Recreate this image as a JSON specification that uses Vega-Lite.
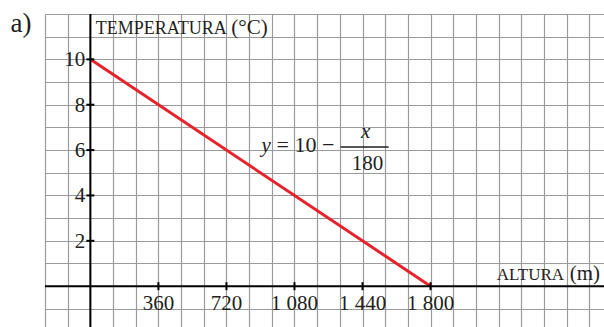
{
  "$schema": "https://vega.github.io/schema/vega-lite/v6.json",
  "width": 559,
  "height": 313,
  "autosize": {"type": "none"},
  "padding": {"left": 45, "top": 14, "right": 0, "bottom": 0},
  "background": "white",
  "data": {"values": [{}]},
  "config": {
    "view": {"stroke": null},
    "text": {"font": "Liberation Serif", "color": "#231f20"},
    "axis": {"labels": false, "ticks": false, "domain": false, "titleOpacity": 0, "grid": true,
      "gridColor": "#9b9b9b", "gridWidth": 1.2, "gridOpacity": 1}
  },
  "datasets": {
    "linea": [{"altura": 0, "temp": 10}, {"altura": 1800, "temp": 0}],
    "xticks": [
      {"v": 360, "label": "360"},
      {"v": 720, "label": "720"},
      {"v": 1080, "label": "1 080"},
      {"v": 1440, "label": "1 440"},
      {"v": 1800, "label": "1 800"}
    ],
    "yticks": [
      {"v": 2, "label": "2"},
      {"v": 4, "label": "4"},
      {"v": 6, "label": "6"},
      {"v": 8, "label": "8"},
      {"v": 10, "label": "10"}
    ]
  },
  "layer": [
    {
      "data": {"name": "linea"},
      "mark": {"type": "line", "color": "#e8222b", "strokeWidth": 3, "clip": false},
      "encoding": {
        "x": {
          "field": "altura", "type": "quantitative", "title": null,
          "scale": {"domain": [-240, 2717.7], "nice": false, "zero": false},
          "axis": {"values": [-240,-120,0,120,240,360,480,600,720,840,960,1080,1200,1320,1440,1560,1680,1800,1920,2040,2160,2280,2400,2520,2640]}
        },
        "y": {
          "field": "temp", "type": "quantitative", "title": null,
          "scale": {"domain": [-1.8, 12], "nice": false, "zero": false},
          "axis": {"values": [-1,0,1,2,3,4,5,6,7,8,9,10,11,12]}
        }
      }
    },
    {
      "mark": {"type": "rule", "color": "black", "strokeWidth": 2},
      "encoding": {"y": {"datum": 0, "title": null, "axis": {"values": [-1,0,1,2,3,4,5,6,7,8,9,10,11,12]}}}
    },
    {
      "mark": {"type": "rule", "color": "black", "strokeWidth": 2},
      "encoding": {"x": {"datum": 0, "title": null, "axis": {"values": [-240,-120,0,120,240,360,480,600,720,840,960,1080,1200,1320,1440,1560,1680,1800,1920,2040,2160,2280,2400,2520,2640]}}}
    },
    {
      "data": {"name": "xticks"},
      "mark": {"type": "tick", "orient": "vertical", "size": 8, "thickness": 2, "color": "black", "opacity": 1},
      "encoding": {
        "x": {"field": "v", "type": "quantitative", "title": null, "axis": {"values": [-240,-120,0,120,240,360,480,600,720,840,960,1080,1200,1320,1440,1560,1680,1800,1920,2040,2160,2280,2400,2520,2640]}},
        "y": {"datum": 0, "title": null, "axis": {"values": [-1,0,1,2,3,4,5,6,7,8,9,10,11,12]}}
      }
    },
    {
      "data": {"name": "yticks"},
      "mark": {"type": "tick", "orient": "horizontal", "size": 8, "thickness": 2, "color": "black", "opacity": 1},
      "encoding": {
        "y": {"field": "v", "type": "quantitative", "title": null, "axis": {"values": [-1,0,1,2,3,4,5,6,7,8,9,10,11,12]}},
        "x": {"datum": 0, "title": null, "axis": {"values": [-240,-120,0,120,240,360,480,600,720,840,960,1080,1200,1320,1440,1560,1680,1800,1920,2040,2160,2280,2400,2520,2640]}}
      }
    },
    {
      "data": {"name": "xticks"},
      "mark": {"type": "text", "fontSize": 21, "align": "center", "baseline": "alphabetic", "dy": 24},
      "encoding": {
        "x": {"field": "v", "type": "quantitative", "title": null, "axis": {"values": [-240,-120,0,120,240,360,480,600,720,840,960,1080,1200,1320,1440,1560,1680,1800,1920,2040,2160,2280,2400,2520,2640]}},
        "y": {"datum": 0, "title": null, "axis": {"values": [-1,0,1,2,3,4,5,6,7,8,9,10,11,12]}},
        "text": {"field": "label"}
      }
    },
    {
      "data": {"name": "yticks"},
      "mark": {"type": "text", "fontSize": 21, "align": "right", "baseline": "middle", "dx": -5, "dy": 1},
      "encoding": {
        "y": {"field": "v", "type": "quantitative", "title": null, "axis": {"values": [-1,0,1,2,3,4,5,6,7,8,9,10,11,12]}},
        "x": {"datum": 0, "title": null, "axis": {"values": [-240,-120,0,120,240,360,480,600,720,840,960,1080,1200,1320,1440,1560,1680,1800,1920,2040,2160,2280,2400,2520,2640]}},
        "text": {"field": "label"}
      }
    },
    {
      "mark": {"type": "text", "text": "TEMPERATURA", "fontSize": 18, "align": "left", "baseline": "alphabetic"},
      "encoding": {"x": {"datum": 28, "title": null, "axis": {"values": [-240,-120,0,120,240,360,480,600,720,840,960,1080,1200,1320,1440,1560,1680,1800,1920,2040,2160,2280,2400,2520,2640]}}, "y": {"datum": 11.11, "title": null, "axis": {"values": [-1,0,1,2,3,4,5,6,7,8,9,10,11,12]}}}
    },
    {
      "mark": {"type": "text", "text": "(°C)", "fontSize": 21, "align": "left", "baseline": "alphabetic"},
      "encoding": {"x": {"datum": 746, "title": null, "axis": {"values": [-240,-120,0,120,240,360,480,600,720,840,960,1080,1200,1320,1440,1560,1680,1800,1920,2040,2160,2280,2400,2520,2640]}}, "y": {"datum": 11.11, "title": null, "axis": {"values": [-1,0,1,2,3,4,5,6,7,8,9,10,11,12]}}}
    },
    {
      "mark": {"type": "text", "text": "ALTURA", "fontSize": 17, "align": "left", "baseline": "alphabetic"},
      "encoding": {"x": {"datum": 2150, "title": null, "axis": {"values": [-240,-120,0,120,240,360,480,600,720,840,960,1080,1200,1320,1440,1560,1680,1800,1920,2040,2160,2280,2400,2520,2640]}}, "y": {"datum": 0.265, "title": null, "axis": {"values": [-1,0,1,2,3,4,5,6,7,8,9,10,11,12]}}}
    },
    {
      "mark": {"type": "text", "text": "(m)", "fontSize": 21, "align": "left", "baseline": "alphabetic"},
      "encoding": {"x": {"datum": 2536, "title": null, "axis": {"values": [-240,-120,0,120,240,360,480,600,720,840,960,1080,1200,1320,1440,1560,1680,1800,1920,2040,2160,2280,2400,2520,2640]}}, "y": {"datum": 0.265, "title": null, "axis": {"values": [-1,0,1,2,3,4,5,6,7,8,9,10,11,12]}}}
    },
    {
      "mark": {"type": "text", "text": "a)", "fontSize": 27, "align": "left", "baseline": "alphabetic"},
      "encoding": {"x": {"datum": -422, "title": null, "axis": {"values": [-240,-120,0,120,240,360,480,600,720,840,960,1080,1200,1320,1440,1560,1680,1800,1920,2040,2160,2280,2400,2520,2640]}}, "y": {"datum": 11.2, "title": null, "axis": {"values": [-1,0,1,2,3,4,5,6,7,8,9,10,11,12]}}}
    },
    {
      "mark": {"type": "text", "text": "y", "fontSize": 21, "fontStyle": "italic", "align": "left", "baseline": "alphabetic"},
      "encoding": {"x": {"datum": 906, "title": null, "axis": {"values": [-240,-120,0,120,240,360,480,600,720,840,960,1080,1200,1320,1440,1560,1680,1800,1920,2040,2160,2280,2400,2520,2640]}}, "y": {"datum": 5.91, "title": null, "axis": {"values": [-1,0,1,2,3,4,5,6,7,8,9,10,11,12]}}}
    },
    {
      "mark": {"type": "text", "text": "= 10 −", "fontSize": 22, "align": "left", "baseline": "alphabetic"},
      "encoding": {"x": {"datum": 985, "title": null, "axis": {"values": [-240,-120,0,120,240,360,480,600,720,840,960,1080,1200,1320,1440,1560,1680,1800,1920,2040,2160,2280,2400,2520,2640]}}, "y": {"datum": 5.91, "title": null, "axis": {"values": [-1,0,1,2,3,4,5,6,7,8,9,10,11,12]}}}
    },
    {
      "mark": {"type": "rule", "color": "#231f20", "strokeWidth": 1.5},
      "encoding": {"x": {"datum": 1324, "title": null, "axis": {"values": [-240,-120,0,120,240,360,480,600,720,840,960,1080,1200,1320,1440,1560,1680,1800,1920,2040,2160,2280,2400,2520,2640]}}, "x2": {"datum": 1578}, "y": {"datum": 6.14, "title": null, "axis": {"values": [-1,0,1,2,3,4,5,6,7,8,9,10,11,12]}}}
    },
    {
      "mark": {"type": "text", "text": "x", "fontSize": 21, "fontStyle": "italic", "align": "center", "baseline": "alphabetic"},
      "encoding": {"x": {"datum": 1457, "title": null, "axis": {"values": [-240,-120,0,120,240,360,480,600,720,840,960,1080,1200,1320,1440,1560,1680,1800,1920,2040,2160,2280,2400,2520,2640]}}, "y": {"datum": 6.53, "title": null, "axis": {"values": [-1,0,1,2,3,4,5,6,7,8,9,10,11,12]}}}
    },
    {
      "mark": {"type": "text", "text": "180", "fontSize": 21, "align": "center", "baseline": "alphabetic"},
      "encoding": {"x": {"datum": 1467, "title": null, "axis": {"values": [-240,-120,0,120,240,360,480,600,720,840,960,1080,1200,1320,1440,1560,1680,1800,1920,2040,2160,2280,2400,2520,2640]}}, "y": {"datum": 5.14, "title": null, "axis": {"values": [-1,0,1,2,3,4,5,6,7,8,9,10,11,12]}}}
    }
  ]
}
